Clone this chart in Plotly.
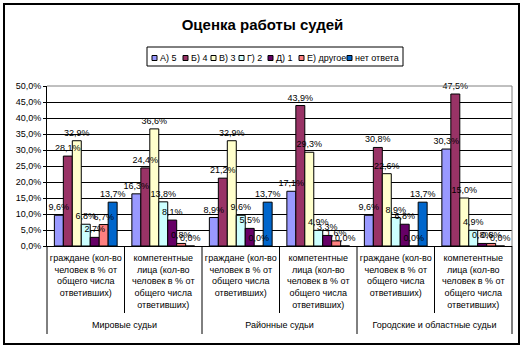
import plotly.graph_objects as go

# ---------------- data ----------------
groups = ["Мировые судьи", "Мировые судьи",
          "Районные судьи", "Районные судьи",
          "Городские и областные судьи", "Городские и областные судьи"]
sub_citizens = "граждане (кол-во<br>человек в % от<br>общего числа<br>ответивших)"
sub_experts = "компетентные<br>лица (кол-во<br>человек в % от<br>общего числа<br>ответивших)"
subcats = [sub_citizens, sub_experts] * 3

series_names = ["А) 5", "Б) 4", "В) 3", "Г) 2", "Д) 1", "Е) другое", "нет ответа"]
A5 = [9.6, 16.3, 8.9, 17.1, 9.6, 30.3]
B4 = [28.1, 24.4, 21.2, 43.9, 30.8, 47.5]
V3 = [32.9, 36.6, 32.9, 29.3, 22.6, 15.0]
G2 = [6.8, 13.8, 9.6, 4.9, 8.9, 4.9]
D1 = [2.7, 8.1, 5.5, 3.3, 6.8, 0.8]
E_other = [6.7, 0.8, 0.0, 1.6, 0.0, 0.8]
no_answer = [13.7, 0.0, 13.7, 0.0, 13.7, 0.0]
series_values = [A5, B4, V3, G2, D1, E_other, no_answer]

title_text = "Оценка работы судей"

# ---------------- styles ----------------
colors = ["#9999FF", "#993366", "#FFFFCC", "#CCFFFF", "#660066", "#FF8080", "#0066CC"]
FONT = "Arial, Liberation Sans, sans-serif"
W, H = 525, 350
ML, MR, MT, MB = 47, 13, 86, 104
PW, PH = W - ML - MR, H - MT - MB


def pxx(x):
    return (x - ML) / PW


def pxy(y):
    return (H - MB - y) / PH


# group labels pushed one line lower (blank first line)
x_cats = [["<br>" + g for g in groups], subcats]

fig = go.Figure()
# visible bars
for i, (name, vals, col) in enumerate(zip(series_names, series_values, colors)):
    fig.add_trace(go.Bar(
        name=name, x=x_cats, y=vals, offsetgroup=str(i),
        marker=dict(color=col, line=dict(color="black", width=1)),
        showlegend=False, hoverinfo="skip",
    ))
# transparent twins carrying the data labels, drawn above all bars
for i, (name, vals) in enumerate(zip(series_names, series_values)):
    fig.add_trace(go.Bar(
        name=name, x=x_cats, y=vals, offsetgroup=str(i),
        marker=dict(color="rgba(0,0,0,0)", line=dict(width=0)),
        texttemplate="%{y:.1f}%",
        textposition="outside",
        textfont=dict(family=FONT, size=9, color="black"),
        constraintext="none",
        cliponaxis=False,
        showlegend=False,
    ))

shapes = []
# outer chart border
shapes.append(dict(type="rect", xref="paper", yref="paper",
                   x0=pxx(4), x1=pxx(519), y0=pxy(344), y1=pxy(4),
                   line=dict(color="black", width=2), layer="above"))
# plot area top / right border (gray)
shapes.append(dict(type="line", xref="paper", yref="paper", x0=0, x1=1, y0=1, y1=1,
                   line=dict(color="#808080", width=1)))
shapes.append(dict(type="line", xref="paper", yref="paper", x0=1, x1=1, y0=0, y1=1,
                   line=dict(color="#808080", width=1)))
# category dividers below the axis
n = len(subcats)
for k in range(n + 1):
    bottom = 334 if k % 2 == 0 else 313
    shapes.append(dict(type="line", xref="paper", yref="paper",
                       x0=k / n, x1=k / n, y0=0, y1=pxy(bottom),
                       line=dict(color="black", width=1)))

annotations = []
# custom legend
shapes.append(dict(type="rect", xref="paper", yref="paper",
                   x0=pxx(147), x1=pxx(403), y0=pxy(66), y1=pxy(47),
                   line=dict(color="black", width=1), fillcolor="white", layer="above"))
swatch_x = [152, 183, 211, 239, 268, 299, 347]
for sx, name, col in zip(swatch_x, series_names, colors):
    shapes.append(dict(type="rect", xref="paper", yref="paper",
                       x0=pxx(sx), x1=pxx(sx + 5), y0=pxy(60.5), y1=pxy(55.5),
                       line=dict(color="black", width=1), fillcolor=col, layer="above"))
    annotations.append(dict(xref="paper", yref="paper", x=pxx(sx + 6.5), y=pxy(58),
                            xanchor="left", yanchor="middle", showarrow=False,
                            borderpad=0, text=name,
                            font=dict(family=FONT, size=9, color="black")))

fig.update_layout(
    width=W, height=H, autosize=False,
    margin=dict(l=ML, r=MR, t=MT, b=MB),
    paper_bgcolor="white", plot_bgcolor="white",
    separators=", ",
    barmode="group", bargap=0.19, bargroupgap=0,
    title=dict(text="<b>" + title_text + "</b>", x=0.5, xref="container", xanchor="center",
               y=1 - 25 / H, yref="container", yanchor="middle",
               font=dict(family=FONT, size=15, color="black")),
    font=dict(family=FONT, size=9, color="black"),
    shapes=shapes,
    annotations=annotations,
    showlegend=False,
)
fig.update_yaxes(range=[0, 50], dtick=5, tickformat=".1f", ticksuffix="%",
                 showgrid=True, gridcolor="black", gridwidth=1,
                 showline=True, linecolor="black", linewidth=1,
                 ticks="outside", ticklen=3, tickcolor="black",
                 zeroline=False, tickfont=dict(family=FONT, size=9, color="black"))
fig.update_xaxes(type="multicategory", showline=True, linecolor="black", linewidth=1,
                 showdividers=False, ticks="", showgrid=False, ticklabelstandoff=3,
                 tickfont=dict(family=FONT, size=9, color="black"))

fig.write_html("out.html")
